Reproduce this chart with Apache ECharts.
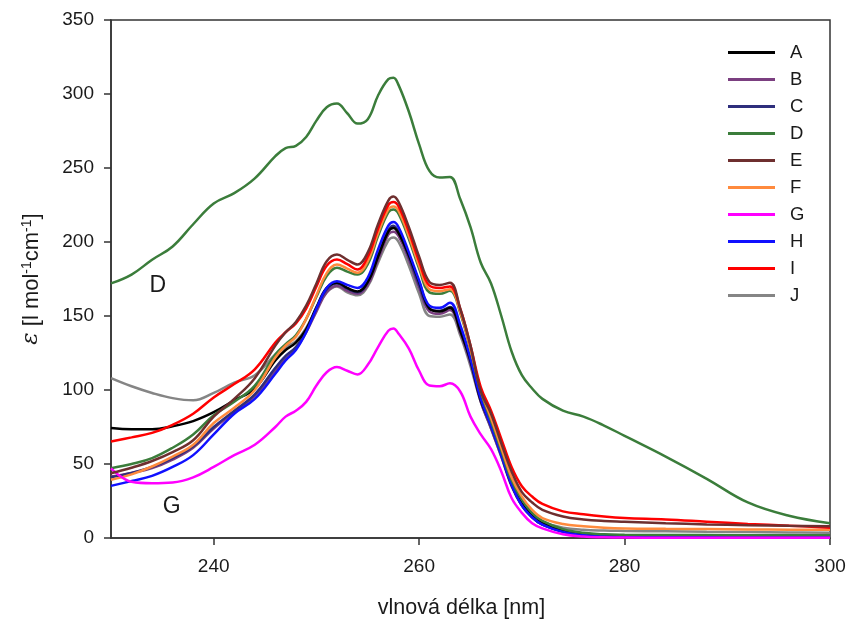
<!DOCTYPE html>
<html><head><meta charset="utf-8">
<script src="https://cdn.jsdelivr.net/npm/echarts@6/dist/echarts.min.js"></script>
<style>html,body{margin:0;padding:0;background:#fff}#c{width:849px;height:625px}</style>
</head><body><div id="c"></div>
<script>
const wavelengths = [230,232,234,236,238,240,242,244,246,247,248,249,250,251,252,253,254,255,256,257,257.5,258,259,260,261,262,263,264,265,266,267,268,269,270,271,272,274,276,278,280,284,288,292,296,300];

const seriesNames = ['A','B','C','D','E','F','G','H','I','J'];

const A = [74.3,73.5,73.5,75.5,79,85,93,101,120,127,132,141,156,169,172.5,169,166.5,173,190,207,209.5,206,191,173,155,153,155.5,140,120,93,77,57,36,23,15,10,5,3,2,1.5,1.2,1,1,1,1];
const B = [41.5,44,47.2,53,61,74,85,96,113,121,128,139,153,166,170.5,167,165,171,188,205,207,204,188,169,153,151.5,154,139,118,92,74,55,35,22,14,9,4.5,2.5,1.8,1.5,1.3,1.2,1.2,1.2,1.2];
const C = [41,44,48,54,62,75,86,97,115,123,129,140,155,168,172,168.5,166,173,191,208,211,207,190,171,155,153.5,156,141,119,93,75,56,36,22,14,9,4.5,2.5,1.5,1.2,1,1,0.8,0.8,0.8];
const D = [172,178,188,197,212,226,233,243,258,263.5,265,271,282,291,293.5,287,280,283,299,310,311,306,288,266,248,243.5,244,229,210,186,172,150,126,110,101,94,86,82,76,69,55,40,24,15,10];
const E = [43.8,47.5,52,58,66,82,94,108,130,139,146,157,172,187,191.5,188,184.8,193,212,228,230.7,227,210,190,173,171,172.4,155,130,99,84,64,45,31,24,19,14.5,12.5,11.5,11,10,9.2,8.6,8.2,8];
const F = [39.3,43,48.3,55,63,77.7,88,100,122,130,136,148,164,179,184.8,182,179.2,187,206,222,224,221,204,184,168,166.8,168,153,128,100,81,61,41,28,19,13.5,9.5,8,7,6.5,6.2,6,5.8,5.6,5.5];
const G = [47,38,37,37.5,41,48,56,63,75,82,86,92,103,112,115.5,113,110.5,117,129,140,141.5,138,128,113,103,102.5,104.5,99,82,70,60,45,27,17,10,6.5,2.5,1,0.5,0.3,0.2,0.2,0.2,0.2,0.2];
const H = [35.2,38.5,42,48,56,70,84,94,111,120,127,139,155,169,173.5,171,169,176,195,211,213.5,210,193,174,157,155.5,158.9,144,121,94,76,56,36,22,14,9,4,2,1.2,1,0.8,0.7,0.6,0.5,0.5];
const I = [65.2,68,71,76.5,84,95,104,114,132,139,145,155,170,184,188.2,185,181.4,190,209,225,227,224,207,187,170.5,169,170,155,130,102,86,67,48,35,28,23,18,16,14.5,13.5,12.5,11,9.5,8.3,7];
const J = [108,102.5,98,94.5,93,98,105,110,124,129,133,142,155,166,170,166,164,170,186,201,203,200,184,165,150,149.5,151,137,116,92,74,55,36,24,16,11,7,5.5,5,4.8,4.5,4.2,4,3.8,3.5];
const D2 = [47.2,50,54,61,70,83,92,103,124,131,137,148,163,177,182.6,180,178,185,204,220,222,219,202,182,166,165,167,152,127,99,79,59,39,26,17,11.5,6,3.5,2.5,2.2,2,2,1.8,1.8,1.8];

const seriesColors = {A:'#000000',B:'#7b3f80',C:'#2e2e7c',D:'#3b7d3b',E:'#6e2f2f',F:'#ff8a3d',G:'#ff00ff',H:'#1010ff',I:'#ff0000',J:'#858585',D2:'#3b7d3b'};
const seriesData = {A,B,C,D,E,F,G,H,I,J,D2};
const drawOrder = ['J','B','C','A','H','D2','F','G','I','E','D'];

const xTicks = [240,260,280,300];
const annotations = [{text:'D', x:234.55, y:170.6},{text:'G', x:235.9, y:21}];

const chart = echarts.init(document.getElementById('c'), null, {renderer:'canvas'});
const font = 'Liberation Sans, Arial, sans-serif';
const series = drawOrder.map(n => ({
  name: n, type: 'line', smooth: 0.4, symbol: 'none',
  data: wavelengths.map((w,i) => [w, seriesData[n][i]]),
  lineStyle: {color: seriesColors[n], width: 2.5},
  itemStyle: {color: seriesColors[n]},
  z: 2
}));
chart.setOption({
  animation: false,
  backgroundColor: '#fff',
  grid: {left: 111, right: 19, top: 20, bottom: 87, show: true, borderColor: '#333', borderWidth: 1.5, containLabel: false},
  legend: {
    data: seriesNames, orient: 'vertical', left: 723, top: 38,
    icon: 'rect', itemWidth: 47, itemHeight: 3, itemGap: 8,
    textStyle: {fontSize: 18.5, color: '#1a1a1a', fontFamily: font, padding: [0,0,0,10]}
  },
  xAxis: {
    type: 'value', min: 230, max: 300,
    name: 'vlnová délka [nm]', nameLocation: 'middle', nameGap: 59,
    nameTextStyle: {fontSize: 21.5, color: '#1a1a1a', fontFamily: font, padding: [0, 18, 0, 0]},
    axisLine: {show: true, onZero: false, lineStyle: {color: '#333', width: 1.5}},
    axisTick: {show: true, inside: false, length: 7, customValues: xTicks, lineStyle: {color: '#333', width: 1.5}},
    axisLabel: {customValues: xTicks, fontSize: 19, color: '#1a1a1a', fontFamily: font, margin: 19},
    splitLine: {show: false}
  },
  yAxis: {
    type: 'value', min: 0, max: 350, interval: 50,
    name: '{eps|ε} [l mol{sup|-1}cm{sup|-1}]', nameLocation: 'middle', nameGap: 68,
    nameTextStyle: {fontSize: 22, color: '#1a1a1a', fontFamily: font,
      rich: {eps: {fontSize: 23, fontStyle: 'italic', fontFamily: 'DejaVu Serif', color: '#1a1a1a'},
             sup: {fontSize: 14, verticalAlign: 'top', color: '#1a1a1a', fontFamily: font}}},
    axisLine: {show: true, lineStyle: {color: '#333', width: 1.5}},
    axisTick: {show: true, inside: false, length: 7, lineStyle: {color: '#333', width: 1.5}},
    axisLabel: {fontSize: 19, color: '#1a1a1a', fontFamily: font, margin: 17},
    splitLine: {show: false}
  },
  series: series
});
chart.setOption({
  graphic: annotations.map(a => {
    const p = chart.convertToPixel({gridIndex: 0}, [a.x, a.y]);
    return {type: 'text', x: p[0], y: p[1], style: {text: a.text, fontSize: 23, fill: '#1a1a1a', fontFamily: font, align: 'center', verticalAlign: 'middle'}};
  })
});
</script></body></html>
